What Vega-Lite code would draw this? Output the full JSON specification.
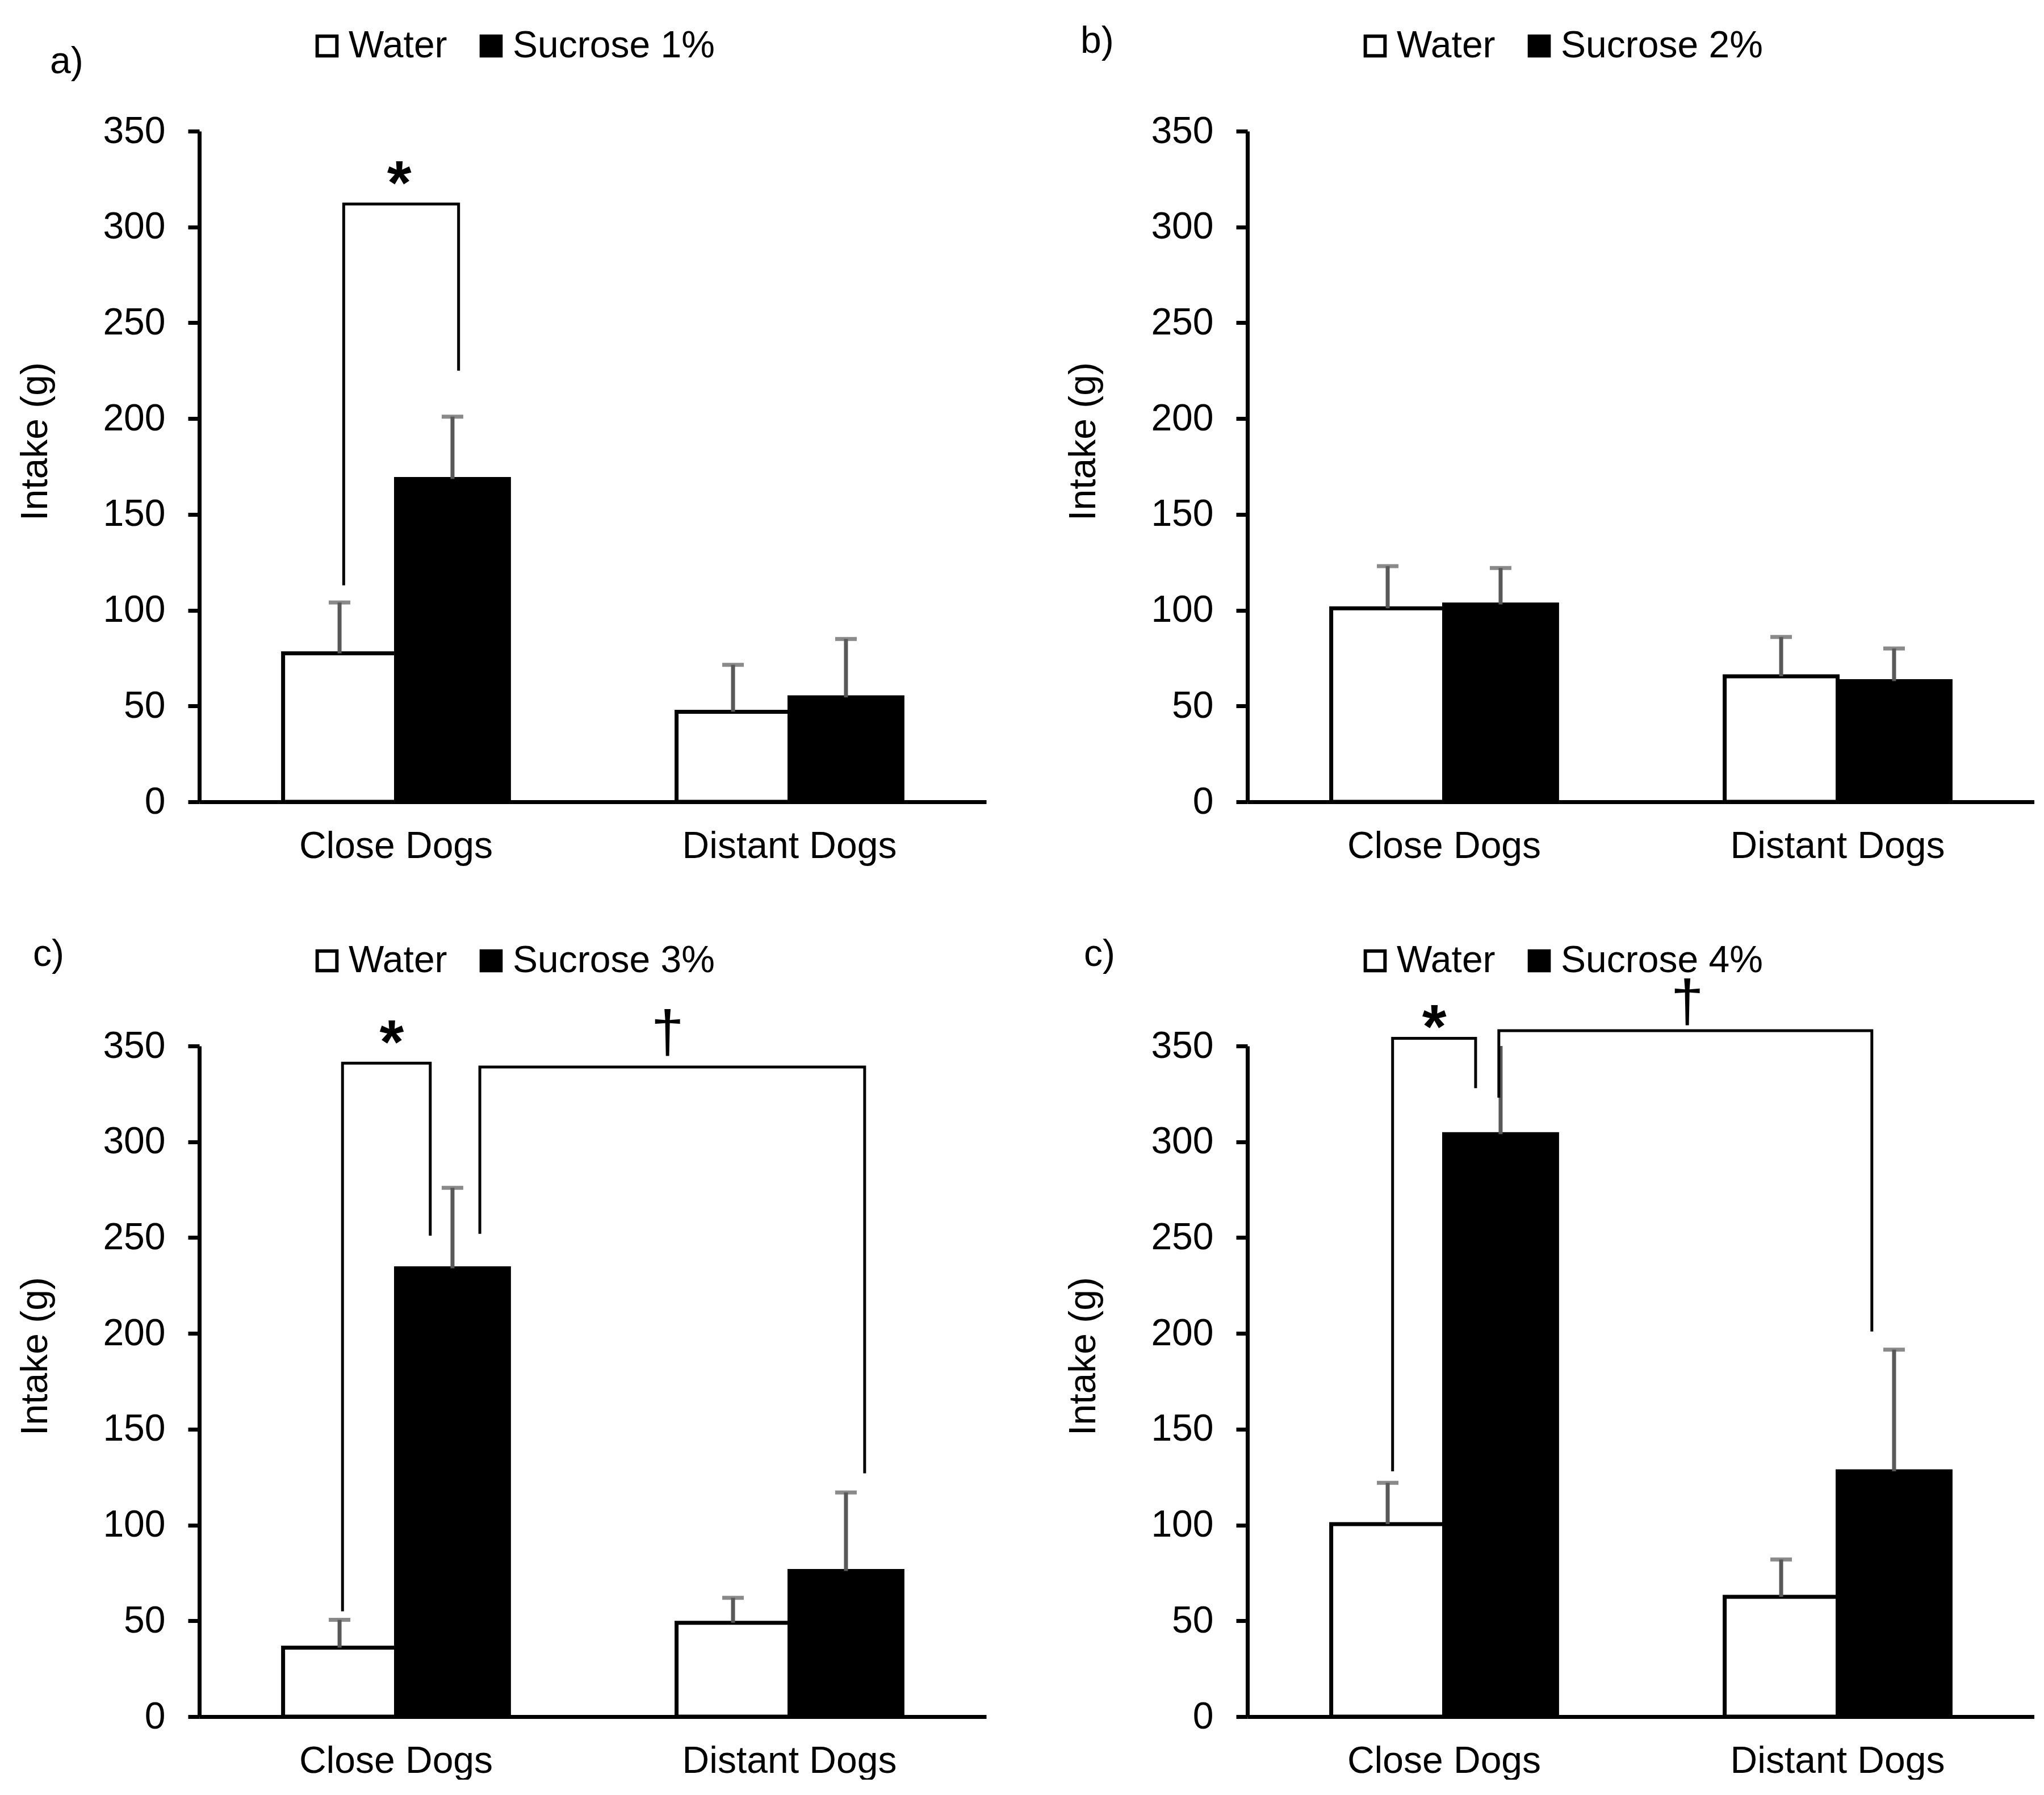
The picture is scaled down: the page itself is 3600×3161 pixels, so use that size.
{
  "$schema": "https://vega.github.io/schema/vega-lite/v6.json",
  "background": "white",
  "padding": {"left": 29, "top": 40, "right": 0, "bottom": 0},
  "datasets": {
    "bars": [
      {"panel": "a", "group": "Close Dogs", "series": "Water", "value": 77.5, "upper": 104},
      {"panel": "a", "group": "Close Dogs", "series": "Sucrose 1%", "value": 168.5, "upper": 201},
      {"panel": "a", "group": "Distant Dogs", "series": "Water", "value": 47, "upper": 71.5},
      {"panel": "a", "group": "Distant Dogs", "series": "Sucrose 1%", "value": 54.5, "upper": 85},
      {"panel": "b", "group": "Close Dogs", "series": "Water", "value": 101, "upper": 123},
      {"panel": "b", "group": "Close Dogs", "series": "Sucrose 2%", "value": 103, "upper": 122},
      {"panel": "b", "group": "Distant Dogs", "series": "Water", "value": 65.5, "upper": 86},
      {"panel": "b", "group": "Distant Dogs", "series": "Sucrose 2%", "value": 63, "upper": 80},
      {"panel": "c", "group": "Close Dogs", "series": "Water", "value": 36, "upper": 50.5},
      {"panel": "c", "group": "Close Dogs", "series": "Sucrose 3%", "value": 234, "upper": 276},
      {"panel": "c", "group": "Distant Dogs", "series": "Water", "value": 49, "upper": 62},
      {"panel": "c", "group": "Distant Dogs", "series": "Sucrose 3%", "value": 76, "upper": 117},
      {"panel": "d", "group": "Close Dogs", "series": "Water", "value": 100.5, "upper": 122},
      {"panel": "d", "group": "Close Dogs", "series": "Sucrose 4%", "value": 304, "upper": 353},
      {"panel": "d", "group": "Distant Dogs", "series": "Water", "value": 62.5, "upper": 82},
      {"panel": "d", "group": "Distant Dogs", "series": "Sucrose 4%", "value": 128, "upper": 191.5}
    ],
    "brackets": [
      {"panel": "a", "bracket": "star", "v": 0, "u": 0.367, "y": 113},
      {"panel": "a", "bracket": "star", "v": 1, "u": 0.367, "y": 312},
      {"panel": "a", "bracket": "star", "v": 2, "u": 0.659, "y": 312},
      {"panel": "a", "bracket": "star", "v": 3, "u": 0.659, "y": 225},
      {"panel": "c", "bracket": "star", "v": 0, "u": 0.364, "y": 55},
      {"panel": "c", "bracket": "star", "v": 1, "u": 0.364, "y": 341},
      {"panel": "c", "bracket": "star", "v": 2, "u": 0.587, "y": 341},
      {"panel": "c", "bracket": "star", "v": 3, "u": 0.587, "y": 251},
      {"panel": "c", "bracket": "dagger", "v": 0, "u": 0.713, "y": 252},
      {"panel": "c", "bracket": "dagger", "v": 1, "u": 0.713, "y": 339},
      {"panel": "c", "bracket": "dagger", "v": 2, "u": 1.691, "y": 339},
      {"panel": "c", "bracket": "dagger", "v": 3, "u": 1.691, "y": 127},
      {"panel": "d", "bracket": "star", "v": 0, "u": 0.369, "y": 128},
      {"panel": "d", "bracket": "star", "v": 1, "u": 0.369, "y": 354},
      {"panel": "d", "bracket": "star", "v": 2, "u": 0.58, "y": 354},
      {"panel": "d", "bracket": "star", "v": 3, "u": 0.58, "y": 328},
      {"panel": "d", "bracket": "dagger", "v": 0, "u": 0.639, "y": 323},
      {"panel": "d", "bracket": "dagger", "v": 1, "u": 0.639, "y": 358},
      {"panel": "d", "bracket": "dagger", "v": 2, "u": 1.587, "y": 358},
      {"panel": "d", "bracket": "dagger", "v": 3, "u": 1.587, "y": 201}
    ],
    "labels": [
      {"panel": "a", "label": "*", "u": 0.508, "y": 312},
      {"panel": "c", "label": "*", "u": 0.489, "y": 341},
      {"panel": "c", "label": "†", "u": 1.19, "y": 347},
      {"panel": "d", "label": "*", "u": 0.475, "y": 349},
      {"panel": "d", "label": "†", "u": 1.118, "y": 363}
    ]
  },
  "columns": 2,
  "spacing": {"row": 125, "column": 138},
  "concat": [
    {
      "width": 1386,
      "height": 1181,
      "title": {"text": "a)", "anchor": "start", "frame": "group", "offset": 0, "dx": -263, "dy": 147, "baseline": "alphabetic"},
      "layer": [
        {
          "data": {"name": "bars"},
          "transform": [{"filter": "datum.panel == 'a'"}],
          "encoding": {
            "x": {"field": "group", "type": "nominal", "sort": ["Close Dogs", "Distant Dogs"], "scale": {"paddingInner": 0.426, "paddingOuter": 0.213}, "title": null},
            "xOffset": {"field": "series", "type": "nominal", "sort": ["Water", "Sucrose 1%"], "scale": {"paddingInner": 0, "paddingOuter": 0}},
            "y": {"field": "value", "type": "quantitative", "scale": {"domain": [0, 350], "nice": false}, "title": "Intake (g)", "axis": {"values": [0, 50, 100, 150, 200, 250, 300, 350]}}
          },
          "layer": [
            {
              "mark": {"type": "bar", "stroke": "black", "strokeWidth": 7},
              "encoding": {"fill": {"field": "series", "type": "nominal", "scale": {"domain": ["Water", "Sucrose 1%"], "range": ["white", "black"]}, "legend": {"title": null}}}
            },
            {"mark": {"type": "rule", "color": "#595959", "strokeWidth": 7, "clip": true}, "encoding": {"y2": {"field": "upper"}}},
            {"mark": {"type": "tick", "color": "#595959", "thickness": 7, "size": 38, "clip": true}, "encoding": {"y": {"field": "upper", "type": "quantitative", "title": "Intake (g)"}}}
          ]
        },
        {
          "data": {"name": "brackets"},
          "transform": [{"filter": "datum.panel == 'a'"}],
          "mark": {"type": "line", "color": "black", "strokeWidth": 5},
          "encoding": {
            "x": {"field": "u", "type": "quantitative", "scale": {"domain": [0, 2]}, "axis": null},
            "y": {"field": "y", "type": "quantitative", "title": "Intake (g)"},
            "detail": {"field": "bracket"},
            "order": {"field": "v", "type": "quantitative"}
          }
        },
        {
          "data": {"name": "labels"},
          "transform": [{"filter": "datum.panel == 'a' && datum.label == '*'"}],
          "mark": {"type": "text", "fontSize": 110, "fontWeight": "bold", "baseline": "alphabetic", "color": "black"},
          "encoding": {
            "x": {"field": "u", "type": "quantitative", "scale": {"domain": [0, 2]}, "axis": null},
            "y": {"field": "y", "type": "quantitative", "title": "Intake (g)"},
            "text": {"field": "label"}
          }
        }
      ],
      "resolve": {"scale": {"x": "independent"}}
    },
    {
      "width": 1386,
      "height": 1181,
      "title": {"text": "b)", "anchor": "start", "frame": "group", "offset": 0, "dx": -294, "dy": 111, "baseline": "alphabetic"},
      "data": {"name": "bars"},
      "transform": [{"filter": "datum.panel == 'b'"}],
      "encoding": {
        "x": {"field": "group", "type": "nominal", "sort": ["Close Dogs", "Distant Dogs"], "scale": {"paddingInner": 0.426, "paddingOuter": 0.213}, "title": null},
        "xOffset": {"field": "series", "type": "nominal", "sort": ["Water", "Sucrose 2%"], "scale": {"paddingInner": 0, "paddingOuter": 0}},
        "y": {"field": "value", "type": "quantitative", "scale": {"domain": [0, 350], "nice": false}, "title": "Intake (g)", "axis": {"values": [0, 50, 100, 150, 200, 250, 300, 350]}}
      },
      "layer": [
        {
          "mark": {"type": "bar", "stroke": "black", "strokeWidth": 7},
          "encoding": {"fill": {"field": "series", "type": "nominal", "scale": {"domain": ["Water", "Sucrose 2%"], "range": ["white", "black"]}, "legend": {"title": null}}}
        },
        {"mark": {"type": "rule", "color": "#595959", "strokeWidth": 7, "clip": true}, "encoding": {"y2": {"field": "upper"}}},
        {"mark": {"type": "tick", "color": "#595959", "thickness": 7, "size": 38, "clip": true}, "encoding": {"y": {"field": "upper", "type": "quantitative", "title": "Intake (g)"}}}
      ]
    },
    {
      "width": 1386,
      "height": 1181,
      "title": {"text": "c)", "anchor": "start", "frame": "group", "offset": 0, "dx": -293, "dy": 108, "baseline": "alphabetic"},
      "layer": [
        {
          "data": {"name": "bars"},
          "transform": [{"filter": "datum.panel == 'c'"}],
          "encoding": {
            "x": {"field": "group", "type": "nominal", "sort": ["Close Dogs", "Distant Dogs"], "scale": {"paddingInner": 0.426, "paddingOuter": 0.213}, "title": null},
            "xOffset": {"field": "series", "type": "nominal", "sort": ["Water", "Sucrose 3%"], "scale": {"paddingInner": 0, "paddingOuter": 0}},
            "y": {"field": "value", "type": "quantitative", "scale": {"domain": [0, 350], "nice": false}, "title": "Intake (g)", "axis": {"values": [0, 50, 100, 150, 200, 250, 300, 350]}}
          },
          "layer": [
            {
              "mark": {"type": "bar", "stroke": "black", "strokeWidth": 7},
              "encoding": {"fill": {"field": "series", "type": "nominal", "scale": {"domain": ["Water", "Sucrose 3%"], "range": ["white", "black"]}, "legend": {"title": null}}}
            },
            {"mark": {"type": "rule", "color": "#595959", "strokeWidth": 7, "clip": true}, "encoding": {"y2": {"field": "upper"}}},
            {"mark": {"type": "tick", "color": "#595959", "thickness": 7, "size": 38, "clip": true}, "encoding": {"y": {"field": "upper", "type": "quantitative", "title": "Intake (g)"}}}
          ]
        },
        {
          "data": {"name": "brackets"},
          "transform": [{"filter": "datum.panel == 'c'"}],
          "mark": {"type": "line", "color": "black", "strokeWidth": 5},
          "encoding": {
            "x": {"field": "u", "type": "quantitative", "scale": {"domain": [0, 2]}, "axis": null},
            "y": {"field": "y", "type": "quantitative", "title": "Intake (g)"},
            "detail": {"field": "bracket"},
            "order": {"field": "v", "type": "quantitative"}
          }
        },
        {
          "data": {"name": "labels"},
          "transform": [{"filter": "datum.panel == 'c' && datum.label == '*'"}],
          "mark": {"type": "text", "fontSize": 110, "fontWeight": "bold", "baseline": "alphabetic", "color": "black"},
          "encoding": {
            "x": {"field": "u", "type": "quantitative", "scale": {"domain": [0, 2]}, "axis": null},
            "y": {"field": "y", "type": "quantitative", "title": "Intake (g)"},
            "text": {"field": "label"}
          }
        },
        {
          "data": {"name": "labels"},
          "transform": [{"filter": "datum.panel == 'c' && datum.label != '*'"}],
          "mark": {"type": "text", "fontSize": 104, "baseline": "alphabetic", "color": "black"},
          "encoding": {
            "x": {"field": "u", "type": "quantitative", "scale": {"domain": [0, 2]}, "axis": null},
            "y": {"field": "y", "type": "quantitative", "title": "Intake (g)"},
            "text": {"field": "label"}
          }
        }
      ],
      "resolve": {"scale": {"x": "independent"}}
    },
    {
      "width": 1386,
      "height": 1181,
      "title": {"text": "c)", "anchor": "start", "frame": "group", "offset": 0, "dx": -288, "dy": 108, "baseline": "alphabetic"},
      "layer": [
        {
          "data": {"name": "bars"},
          "transform": [{"filter": "datum.panel == 'd'"}],
          "encoding": {
            "x": {"field": "group", "type": "nominal", "sort": ["Close Dogs", "Distant Dogs"], "scale": {"paddingInner": 0.426, "paddingOuter": 0.213}, "title": null},
            "xOffset": {"field": "series", "type": "nominal", "sort": ["Water", "Sucrose 4%"], "scale": {"paddingInner": 0, "paddingOuter": 0}},
            "y": {"field": "value", "type": "quantitative", "scale": {"domain": [0, 350], "nice": false}, "title": "Intake (g)", "axis": {"values": [0, 50, 100, 150, 200, 250, 300, 350]}}
          },
          "layer": [
            {
              "mark": {"type": "bar", "stroke": "black", "strokeWidth": 7},
              "encoding": {"fill": {"field": "series", "type": "nominal", "scale": {"domain": ["Water", "Sucrose 4%"], "range": ["white", "black"]}, "legend": {"title": null}}}
            },
            {"mark": {"type": "rule", "color": "#595959", "strokeWidth": 7, "clip": true}, "encoding": {"y2": {"field": "upper"}}},
            {"mark": {"type": "tick", "color": "#595959", "thickness": 7, "size": 38, "clip": true}, "encoding": {"y": {"field": "upper", "type": "quantitative", "title": "Intake (g)"}}}
          ]
        },
        {
          "data": {"name": "brackets"},
          "transform": [{"filter": "datum.panel == 'd'"}],
          "mark": {"type": "line", "color": "black", "strokeWidth": 5},
          "encoding": {
            "x": {"field": "u", "type": "quantitative", "scale": {"domain": [0, 2]}, "axis": null},
            "y": {"field": "y", "type": "quantitative", "title": "Intake (g)"},
            "detail": {"field": "bracket"},
            "order": {"field": "v", "type": "quantitative"}
          }
        },
        {
          "data": {"name": "labels"},
          "transform": [{"filter": "datum.panel == 'd' && datum.label == '*'"}],
          "mark": {"type": "text", "fontSize": 110, "fontWeight": "bold", "baseline": "alphabetic", "color": "black"},
          "encoding": {
            "x": {"field": "u", "type": "quantitative", "scale": {"domain": [0, 2]}, "axis": null},
            "y": {"field": "y", "type": "quantitative", "title": "Intake (g)"},
            "text": {"field": "label"}
          }
        },
        {
          "data": {"name": "labels"},
          "transform": [{"filter": "datum.panel == 'd' && datum.label != '*'"}],
          "mark": {"type": "text", "fontSize": 104, "baseline": "alphabetic", "color": "black"},
          "encoding": {
            "x": {"field": "u", "type": "quantitative", "scale": {"domain": [0, 2]}, "axis": null},
            "y": {"field": "y", "type": "quantitative", "title": "Intake (g)"},
            "text": {"field": "label"}
          }
        }
      ],
      "resolve": {"scale": {"x": "independent"}}
    }
  ],
  "resolve": {
    "scale": {"fill": "independent", "xOffset": "independent", "x": "independent", "y": "independent"},
    "legend": {"fill": "independent"}
  },
  "config": {
    "font": "Liberation Sans",
    "view": {"stroke": null},
    "axis": {
      "labelFont": "Liberation Sans",
      "labelFontSize": 66,
      "labelColor": "black",
      "labelLimit": 2000,
      "titleFont": "Liberation Sans",
      "titleFontSize": 66,
      "titleFontWeight": "normal",
      "titleColor": "black",
      "domainColor": "black",
      "domainWidth": 7,
      "tickColor": "black",
      "tickWidth": 7,
      "grid": false
    },
    "axisX": {"ticks": false, "tickSize": 0, "labelPadding": 46, "labelAngle": 0},
    "axisY": {"tickSize": 20, "labelPadding": 40, "titleX": -255, "titleY": 546, "titleBaseline": "bottom", "titleAngle": 270},
    "legend": {
      "orient": "none",
      "legendX": 192,
      "legendY": -183,
      "direction": "horizontal",
      "symbolType": "square",
      "symbolSize": 1200,
      "symbolStrokeColor": "black",
      "symbolStrokeWidth": 6,
      "symbolOpacity": 1,
      "labelFont": "Liberation Sans",
      "labelFontSize": 66,
      "labelColor": "black",
      "labelLimit": 2000,
      "labelOffset": 5,
      "columnPadding": 44,
      "padding": 0
    },
    "title": {"font": "Liberation Sans", "fontSize": 66, "fontWeight": "normal", "color": "black"}
  }
}
